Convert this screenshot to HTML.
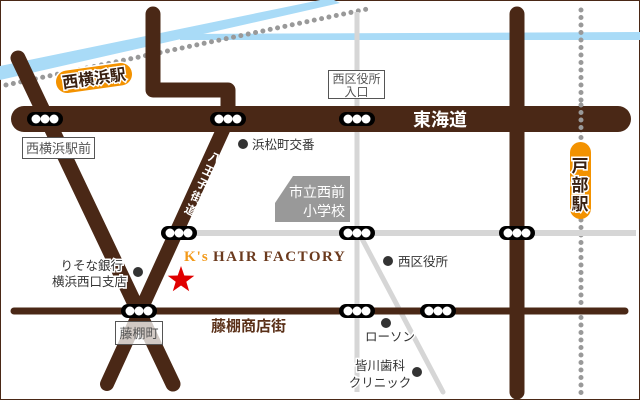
<!DOCTYPE html>
<html><head><meta charset="utf-8"><style>
html,body{margin:0;padding:0;background:#fff}
svg{display:block}
text{font-family:"Liberation Sans","Noto Sans CJK JP",sans-serif}
text.serif{font-family:"Liberation Serif",serif}
</style></head><body>
<svg width="640" height="400" viewBox="0 0 640 400" xmlns="http://www.w3.org/2000/svg">
<rect x="0.5" y="0.5" width="639" height="399" fill="#fff" stroke="#4a2816"/>
<polygon points="0,66 330,-2 340,3 0,80" fill="#a9dbf7"/>
<polygon points="180,34 640,32 640,40 205,40 180,40" fill="#a9dbf7"/>
<line x1="6" y1="85" x2="372" y2="8" stroke="#999" stroke-width="5" stroke-linecap="round" stroke-dasharray="0 7.5"/>
<line x1="581" y1="10" x2="581" y2="395" stroke="#999" stroke-width="5" stroke-linecap="round" stroke-dasharray="0 7.5"/>
<g stroke="#d6d6d6" fill="none">
<line x1="357" y1="12" x2="357" y2="392" stroke-width="5"/>
<line x1="165" y1="233" x2="636" y2="233" stroke-width="6"/>
<line x1="360" y1="235" x2="443" y2="392" stroke-width="5" stroke-linecap="round"/>
</g>
<g stroke="#4a2816" fill="none" stroke-linecap="round" stroke-linejoin="round">
<line x1="14" y1="311" x2="625" y2="311" stroke-width="7"/>
<line x1="18" y1="58" x2="173" y2="384" stroke-width="15"/>
<line x1="228" y1="119" x2="107" y2="384" stroke-width="14"/>
<polyline points="153,14 153,90 228,90 228,119" stroke-width="15"/>
<line x1="517" y1="14" x2="517" y2="392" stroke-width="15"/>
<line x1="24" y1="119" x2="618" y2="119" stroke-width="26"/>
</g>
<line x1="581" y1="105" x2="581" y2="135" stroke="#999" stroke-width="5" stroke-linecap="round" stroke-dasharray="0 7.5"/>
<g>
<g transform="translate(45,119)"><rect x="-18" y="-7" width="36" height="14" rx="7" fill="#000"/><circle cx="-9" r="4.5" fill="#fff"/><circle r="4.5" fill="#fff"/><circle cx="9" r="4.5" fill="#fff"/></g>
<g transform="translate(228,119)"><rect x="-18" y="-7" width="36" height="14" rx="7" fill="#000"/><circle cx="-9" r="4.5" fill="#fff"/><circle r="4.5" fill="#fff"/><circle cx="9" r="4.5" fill="#fff"/></g>
<g transform="translate(357,119)"><rect x="-18" y="-7" width="36" height="14" rx="7" fill="#000"/><circle cx="-9" r="4.5" fill="#fff"/><circle r="4.5" fill="#fff"/><circle cx="9" r="4.5" fill="#fff"/></g>
<g transform="translate(179,233)"><rect x="-18" y="-7" width="36" height="14" rx="7" fill="#000"/><circle cx="-9" r="4.5" fill="#fff"/><circle r="4.5" fill="#fff"/><circle cx="9" r="4.5" fill="#fff"/></g>
<g transform="translate(357,233)"><rect x="-18" y="-7" width="36" height="14" rx="7" fill="#000"/><circle cx="-9" r="4.5" fill="#fff"/><circle r="4.5" fill="#fff"/><circle cx="9" r="4.5" fill="#fff"/></g>
<g transform="translate(517,233)"><rect x="-18" y="-7" width="36" height="14" rx="7" fill="#000"/><circle cx="-9" r="4.5" fill="#fff"/><circle r="4.5" fill="#fff"/><circle cx="9" r="4.5" fill="#fff"/></g>
<g transform="translate(139,311)"><rect x="-18" y="-7" width="36" height="14" rx="7" fill="#000"/><circle cx="-9" r="4.5" fill="#fff"/><circle r="4.5" fill="#fff"/><circle cx="9" r="4.5" fill="#fff"/></g>
<g transform="translate(357,311)"><rect x="-18" y="-7" width="36" height="14" rx="7" fill="#000"/><circle cx="-9" r="4.5" fill="#fff"/><circle r="4.5" fill="#fff"/><circle cx="9" r="4.5" fill="#fff"/></g>
<g transform="translate(438,311)"><rect x="-18" y="-7" width="36" height="14" rx="7" fill="#000"/><circle cx="-9" r="4.5" fill="#fff"/><circle r="4.5" fill="#fff"/><circle cx="9" r="4.5" fill="#fff"/></g>
</g>
<g transform="translate(94,78) rotate(-8)">
<rect x="-39" y="-12" width="78" height="24" rx="12" fill="#f39200" stroke="#fff" stroke-width="1.5"/>
<text x="0" y="6" text-anchor="middle" font-size="16" font-weight="bold" fill="#3a2010" stroke="#fff" stroke-width="3" paint-order="stroke">西横浜駅</text>
</g>
<rect x="570" y="142" width="21" height="77" rx="10.5" fill="#f39200"/>
<g font-size="17" font-weight="bold" fill="#3a2010" stroke="#fff" stroke-width="3" paint-order="stroke" text-anchor="middle">
<text x="580" y="172">戸</text><text x="580" y="191">部</text><text x="580" y="210">駅</text>
</g>
<rect x="22.5" y="137.5" width="72" height="21" fill="#fff" stroke="#555"/>
<text x="58.5" y="153" text-anchor="middle" font-size="13" fill="#555">西横浜駅前</text>
<rect x="328.5" y="70.5" width="56" height="28" fill="#fff" stroke="#555"/>
<text x="356.5" y="83" text-anchor="middle" font-size="12" fill="#555">西区役所</text>
<text x="356.5" y="96" text-anchor="middle" font-size="12" fill="#555">入口</text>
<rect x="115.5" y="321.5" width="47" height="23" fill="rgba(255,255,255,0.75)" stroke="#555"/>
<text x="139" y="338" text-anchor="middle" font-size="13" fill="#555">藤棚町</text>
<text x="440" y="126" text-anchor="middle" font-size="18" font-weight="bold" fill="#fff">東海道</text>
<g font-size="12" font-weight="bold" fill="#fff" text-anchor="middle">
<text transform="translate(213,162) rotate(25)">八</text>
<text transform="translate(207,175) rotate(25)">王</text>
<text transform="translate(201,188) rotate(25)">子</text>
<text transform="translate(195,201) rotate(25)">街</text>
<text transform="translate(189,214) rotate(25)">道</text>
</g>
<polygon points="275,203 293,176 350,176 350,222 275,222" fill="#999"/>
<text x="345" y="197" text-anchor="end" font-size="14" fill="#fff">市立西前</text>
<text x="345" y="216" text-anchor="end" font-size="14" fill="#fff">小学校</text>
<g fill="#333">
<circle cx="243" cy="144" r="5"/><circle cx="138" cy="272" r="5"/><circle cx="388" cy="261" r="5"/><circle cx="386" cy="323" r="5"/><circle cx="417" cy="372" r="5"/>
</g>
<g font-size="12.5" fill="#333" stroke="#fff" stroke-width="3" paint-order="stroke">
<text x="252" y="149">浜松町交番</text>
<text x="123" y="270" text-anchor="end">りそな銀行</text>
<text x="127" y="286" text-anchor="end">横浜西口支店</text>
<text x="398" y="266">西区役所</text>
<text x="365" y="341">ローソン</text>
<text x="380" y="370" text-anchor="middle">皆川歯科</text>
<text x="380" y="387" text-anchor="middle">クリニック</text>
</g>
<text x="211" y="331" font-size="15" font-weight="bold" fill="#5a3018" stroke="#fff" stroke-width="2" paint-order="stroke">藤棚商店街</text>
<text class="serif" x="184" y="261" font-size="15" font-weight="bold" fill="#f39a1a" letter-spacing="1">K's</text>
<text class="serif" x="213" y="261" font-size="15" font-weight="bold" fill="#6b3a1e" letter-spacing="1.5" stroke="#fff" stroke-width="1" paint-order="stroke">HAIR FACTORY</text>
<polygon points="181,266 184.3,275.5 194.3,275.7 186.3,281.7 189.2,291.3 181,285.5 172.8,291.3 175.7,281.7 167.7,275.7 177.7,275.5" fill="#e00000"/>
</svg>
</body></html>
